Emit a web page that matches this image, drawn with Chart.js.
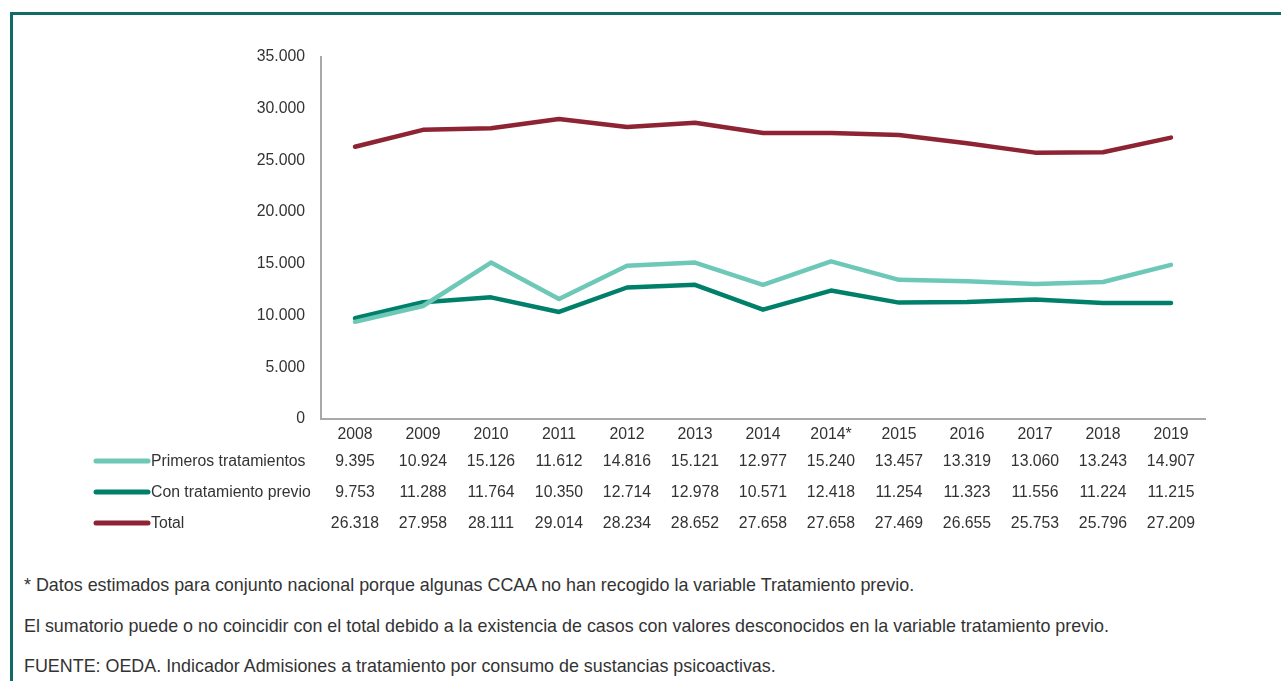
<!DOCTYPE html>
<html lang="es">
<head>
<meta charset="UTF-8">
<title>Admisiones a tratamiento 2008-2019</title>
<script src="https://cdn.jsdelivr.net/npm/chart.js"></script>
<style>
  * { margin: 0; padding: 0; box-sizing: border-box; }
  body {
    width: 1281px;
    height: 681px;
    overflow: hidden;
    background: #fff;
    font-family: 'Liberation Sans', Arial, sans-serif;
    color: #333;
    position: relative;
  }
  .frame {
    position: absolute;
    left: 10px;
    top: 12px;
    width: 1300px;
    height: 700px;
    border: 3px solid #0f6b63;
  }
  .chart-box {
    position: absolute;
    left: 0;
    top: 0;
    width: 1281px;
    height: 545px;
  }
  .notes {
    position: absolute;
    left: 24px;
    top: 575px;
    font-size: 17.9px;
    color: #333;
  }
  .notes p { height: 40.5px; }
</style>
</head>
<body>
<div class="frame"></div>
<div class="chart-box"><canvas id="chart"></canvas></div>
<div class="notes">
  <p>* Datos estimados para conjunto nacional porque algunas CCAA no han recogido la variable Tratamiento previo.</p>
  <p>El sumatorio puede o no coincidir con el total debido a la existencia de casos con valores desconocidos en la variable tratamiento previo.</p>
  <p>FUENTE: OEDA. Indicador Admisiones a tratamiento por consumo de sustancias psicoactivas.</p>
</div>

<script>
const years = ['2008', '2009', '2010', '2011', '2012', '2013', '2014', '2014*', '2015', '2016', '2017', '2018', '2019'];
const primeros = [9395, 10924, 15126, 11612, 14816, 15121, 12977, 15240, 13457, 13319, 13060, 13243, 14907];
const conTratamiento = [9753, 11288, 11764, 10350, 12714, 12978, 10571, 12418, 11254, 11323, 11556, 11224, 11215];
const total = [26318, 27958, 28111, 29014, 28234, 28652, 27658, 27658, 27469, 26655, 25753, 25796, 27209];

const seriesNames = ['Primeros tratamientos', 'Con tratamiento previo', 'Total'];
const seriesColors = ['#6dc8b7', '#00806b', '#8e2433'];

const FONT = "'Liberation Sans', Arial, sans-serif";
const TEXT = '#333';
const SIZE = 15.8;

function fmt(n) {
  return String(n).replace(/\B(?=(\d{3})+(?!\d))/g, '.');
}

// table with legend swatches under the x axis
const tablePlugin = {
  id: 'dataTable',
  afterDraw(chart) {
    const ctx = chart.ctx;
    const x = chart.scales.x;
    const rows = [primeros, conTratamiento, total];
    const rowY = [462, 493, 524];
    ctx.save();
    ctx.font = SIZE + 'px ' + FONT;
    ctx.textBaseline = 'middle';
    rows.forEach((vals, r) => {
      const y = rowY[r];
      ctx.strokeStyle = seriesColors[r];
      ctx.lineWidth = 5;
      ctx.lineCap = 'round';
      ctx.beginPath();
      ctx.moveTo(96, y - 1);
      ctx.lineTo(148, y - 1);
      ctx.stroke();
      ctx.fillStyle = TEXT;
      ctx.textAlign = 'left';
      ctx.fillText(seriesNames[r], 151, y);
      ctx.textAlign = 'center';
      vals.forEach((v, i) => {
        ctx.fillText(fmt(v), x.getPixelForValue(i), y);
      });
    });
    ctx.restore();
  }
};

const ctx = document.getElementById('chart').getContext('2d');
new Chart(ctx, {
  type: 'line',
  data: {
    labels: years,
    datasets: [
      { label: seriesNames[0], data: primeros, borderColor: seriesColors[0] },
      { label: seriesNames[1], data: conTratamiento, borderColor: seriesColors[1] },
      { label: seriesNames[2], data: total, borderColor: seriesColors[2] }
    ]
  },
  options: {
    responsive: true,
    maintainAspectRatio: false,
    animation: false,
    elements: {
      line: { borderWidth: 4.5, tension: 0, borderCapStyle: 'round', borderJoinStyle: 'round' },
      point: { radius: 0 }
    },
    layout: { padding: { top: 57, right: 76, left: 0, bottom: 0 } },
    plugins: {
      legend: { display: false },
      tooltip: { enabled: false }
    },
    scales: {
      x: {
        offset: true,
        grid: { display: false },
        border: { display: true, color: '#a9a9a9', width: 2 },
        ticks: {
          color: TEXT,
          font: { family: FONT, size: SIZE },
          padding: -2,
          maxRotation: 0,
          autoSkip: false
        },
        afterFit(scale) { scale.height = 126; }
      },
      y: {
        min: 0,
        max: 35000,
        grid: { display: false, drawTicks: false },
        border: { display: true, color: '#a9a9a9', width: 2 },
        ticks: {
          stepSize: 5000,
          color: TEXT,
          font: { family: FONT, size: SIZE },
          padding: 16,
          callback: v => fmt(v)
        },
        afterFit(scale) { scale.width = 321; }
      }
    }
  },
  plugins: [tablePlugin]
});
</script>
</body>
</html>
